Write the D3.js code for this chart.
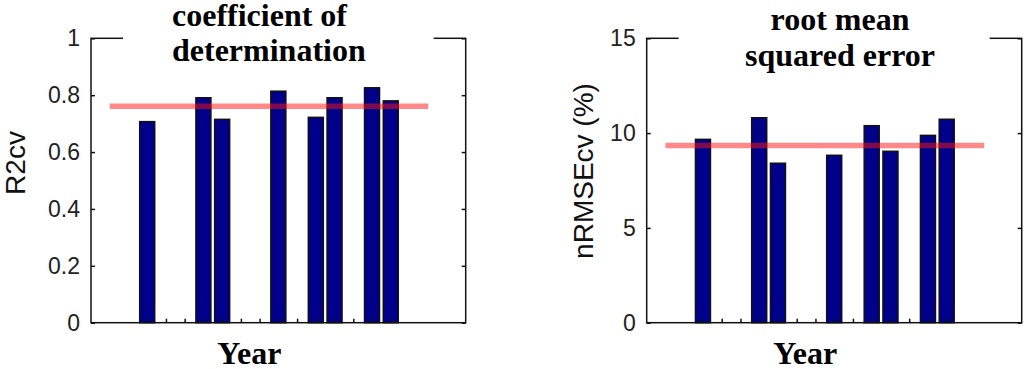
<!DOCTYPE html>
<meta charset="utf-8">
<head>
	<title>R2cv and nRMSEcv by year</title>
	<script type="text/javascript" src="https://d3js.org/d3.v7.min.js"></script>
	<style>
		body { margin: 0; background: #fff; }
		.tick text { font-family: "Liberation Sans", Arial, sans-serif; fill: #222; }
		.ttl { font-family: "Liberation Serif", "Times New Roman", serif; font-weight: bold; fill: #000; }
	</style>
</head>
<body>
<div id="chart"></div>
<script>
	// years on the x axis (no labels are shown in the figure)
	var years = [1997, 1998, 1999, 2000, 2001, 2002, 2003, 2004, 2005, 2006, 2007, 2008, 2009, 2010];

	// cross-validated R2, null where a year has no model
	var r2cv = [0.707, null, null, 0.791, 0.715, null, null, 0.814, null, 0.722, 0.791, null, 0.826, 0.78];
	var r2cvMean = 0.761;
	var r2Ticks = [0, 0.2, 0.4, 0.6, 0.8, 1];

	// normalised RMSE (%)
	var nrmse = [9.67, null, null, 10.81, 8.41, null, null, 8.83, null, 10.39, 9.04, null, 9.88, 10.73];
	var nrmseMean = 9.34;
	var nrmseTicks = [0, 5, 10, 15];

	var w = 1024, h = 369;
	var svg = d3.select("#chart").append("svg").attr("width", w).attr("height", h);

	var top_ = 38.3, bottom = 322.7;

	var panels = [
		{ left: 91, right: 465.7, vals: r2cv, mean: r2cvMean, ticks: r2Ticks, ymax: 1,
		  ylab: "R2cv", ylabX: 25, ylabY: 163,
		  title: ["coefficient of", "determination"], titleX: 172, titleAnchor: "start", titleY: [26, 61] },
		{ left: 646.7, right: 1021.7, vals: nrmse, mean: nrmseMean, ticks: nrmseTicks, ymax: 15,
		  ylab: "nRMSEcv (%)", ylabX: 593, ylabY: 171,
		  title: ["root mean", "squared error"], titleX: 840, titleAnchor: "middle", titleY: [30, 66] }
	];

	panels.forEach(function (p) {
		var g = svg.append("g");

		var x = d3.scaleLinear()
			.domain([years[0] - 3, years[years.length - 1] + 4])
			.range([p.left, p.right]);
		var y = d3.scaleLinear().domain([0, p.ymax]).range([bottom, top_]);
		var bw = x(years[0] + 0.8) - x(years[0]);

		var data = years.map(function (yr, i) { return { year: yr, v: p.vals[i] }; })
			.filter(function (d) { return d.v != null; });

		// bars
		g.selectAll("rect.bar")
			.data(data).enter()
			.append("rect")
			.attr("class", "bar")
			.attr("x", function (d) { return x(d.year) - bw / 2; })
			.attr("y", function (d) { return y(d.v); })
			.attr("width", bw)
			.attr("height", function (d) { return y(0) - y(d.v); })
			.style("fill", "#00008b")
			.style("stroke", "#111")
			.style("stroke-width", 1.5);

		// mean line
		g.append("line")
			.attr("x1", x(years[0] - 2)).attr("x2", x(years[years.length - 1] + 2))
			.attr("y1", y(p.mean)).attr("y2", y(p.mean))
			.style("stroke", "rgba(255,20,20,0.5)")
			.style("stroke-width", 5.5);

		// axes, ticks pointing inwards
		var yl = g.append("g").attr("transform", "translate(" + p.left + ",0)")
			.call(d3.axisLeft(y).tickValues(p.ticks).tickFormat(function (d) { return String(d); })
				.tickSizeInner(-4).tickSizeOuter(0).tickPadding(11));
		yl.selectAll("text").style("font-size", "23px");
		g.append("g").attr("transform", "translate(" + p.right + ",0)")
			.call(d3.axisRight(y).tickValues(p.ticks).tickFormat("").tickSizeInner(-4).tickSizeOuter(0));
		g.append("g").attr("transform", "translate(0," + bottom + ")")
			.call(d3.axisBottom(x).tickValues(years).tickFormat("").tickSizeInner(-4).tickSizeOuter(0));
		g.append("g").attr("transform", "translate(0," + top_ + ")")
			.call(d3.axisTop(x).tickValues(years).tickFormat("").tickSizeInner(-4).tickSizeOuter(0));
		g.selectAll(".domain").remove();
		g.selectAll(".tick line").style("stroke", "#111").style("stroke-width", 1.5);

		// box
		g.append("rect")
			.attr("x", p.left).attr("y", top_)
			.attr("width", p.right - p.left).attr("height", bottom - top_)
			.style("fill", "none").style("stroke", "#111").style("stroke-width", 1.5);

		// title with white background cutting the top edge
		g.append("rect")
			.attr("x", p.left + 32).attr("y", 0)
			.attr("width", p.right - p.left - 64).attr("height", top_ + 6)
			.style("fill", "#fff");
		g.selectAll("text.ttl-line")
			.data(p.title).enter()
			.append("text")
			.attr("class", "ttl")
			.attr("x", p.titleX)
			.attr("y", function (d, i) { return p.titleY[i]; })
			.attr("text-anchor", p.titleAnchor)
			.style("font-size", "32px")
			.text(function (d) { return d; });

		// axis labels
		g.append("text")
			.attr("class", "ttl")
			.attr("x", (p.left + p.right) / 2 - 29)
			.attr("y", 364)
			.attr("text-anchor", "middle")
			.style("font-size", "32px")
			.text("Year");

		g.append("text")
			.attr("transform", "translate(" + p.ylabX + "," + p.ylabY + ") rotate(-90)")
			.attr("text-anchor", "middle")
			.style("font-family", "Liberation Sans, Arial, sans-serif")
			.style("font-size", "28px")
			.style("fill", "#111")
			.text(p.ylab);
	});
</script>
</body>
</html>
